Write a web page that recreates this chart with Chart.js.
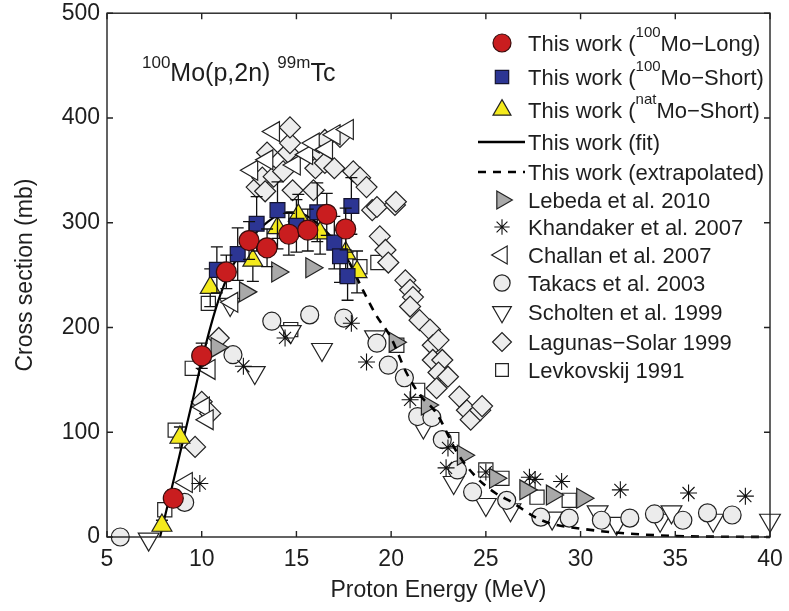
<!DOCTYPE html>
<html>
<head>
<meta charset="utf-8">
<script src="https://cdn.jsdelivr.net/npm/chart.js@4.4.1/dist/chart.umd.min.js"></script>
<style>
  html, body { margin: 0; padding: 0; background: #fff; }
  canvas { display: block; }
</style>
</head>
<body>
<canvas id="xs" width="789" height="611"></canvas>
<script>
// 100Mo(p,2n)99mTc excitation function.

const xTicks = [5, 10, 15, 20, 25, 30, 35, 40];
const yTicks = [0, 100, 200, 300, 400, 500];

// This work: [proton energy (MeV), cross section (mb)]
const moLong = [[8.5, 37], [10.0, 173], [11.3, 253], [12.5, 283], [13.45, 276], [14.6, 289], [15.6, 293], [16.6, 308], [17.6, 294]];
const moLongErr = [8, 12, 16, 18, 18, 20, 20, 20, 20];
const moShort = [[10.8, 255], [11.9, 270], [12.9, 299], [14.0, 312], [15.0, 297], [16.1, 310], [17.0, 281], [17.3, 268], [17.7, 249], [17.9, 316]];
const moShortErr = [22, 25, 26, 27, 25, 28, 25, 25, 23, 27];
const natShort = [[7.9, 11], [8.85, 95], [10.45, 238], [12.7, 264], [14.0, 295], [15.1, 307], [16.25, 290], [17.6, 271], [18.2, 253]];
const natShortErr = [5, 10, 18, 20, 20, 20, 20, 20, 20];

const fitCurve = [[7.8, 0], [8.5, 53], [9, 91], [9.5, 129], [10, 168], [10.5, 203], [11, 232], [11.5, 254], [12, 270], [12.5, 283], [13, 293], [13.5, 301], [14, 307], [14.5, 310], [15, 310], [15.5, 307], [16, 301], [16.5, 293], [17, 283], [17.5, 271], [17.8, 262]];
const extrapCurve = [[17.8, 262], [18.5, 236], [19.2, 212], [20, 190], [20.8, 157], [21.5, 136], [22.4, 118], [23.5, 80], [24.5, 57], [25.5, 42], [26.4, 33], [27.5, 20], [28.4, 13], [30, 8], [32, 4], [35, 1], [40, 0]];

// Literature
const lebeda = [[10.8, 181], [12.3, 234], [14.0, 253], [15.8, 257], [20.2, 186], [21.9, 126], [23.8, 78], [25.5, 56], [27.1, 45], [28.5, 40], [30.1, 37]];
const khandaker = [[9.9, 51], [12.2, 163], [14.4, 190], [17.9, 204], [18.7, 167], [21.0, 131], [23.0, 85], [22.9, 66], [25.0, 62], [27.3, 57], [27.6, 55], [29.0, 53], [32.1, 45], [35.7, 42], [38.7, 39]];
const challan = [[9.2, 52], [10.1, 124], [10.3, 112], [10.4, 160], [11.6, 224], [12.65, 350], [13.45, 360], [13.8, 387], [14.9, 355], [15.55, 365], [15.9, 376], [16.6, 370], [17.0, 384], [17.7, 389]];
const takacs = [[5.7, 0], [9.1, 33], [11.65, 174], [13.7, 206], [15.7, 212], [17.5, 209], [19.25, 185], [19.85, 164], [20.7, 152], [21.4, 115], [22.15, 114], [22.7, 93], [23.5, 64], [24.3, 43], [26.1, 35], [27.9, 19], [29.4, 18], [31.1, 16], [32.6, 18], [33.9, 22], [35.4, 16], [36.7, 23], [38.0, 21]];
const scholten = [[7.2, -2], [11.5, 222], [12.8, 157], [14.7, 196], [16.35, 179], [19.15, 191], [21.7, 105], [23.3, 52], [25.0, 31], [26.3, 26], [28.5, 18], [30.9, 24], [31.9, 13], [34.2, 16], [34.8, 24], [37.0, 16], [40.0, 16]];
const lagunas = [[9.65, 86], [10.0, 129], [10.45, 118], [10.9, 190], [12.9, 334], [13.2, 343], [13.35, 330], [13.45, 367], [13.8, 344], [14.3, 349], [14.56, 367], [14.66, 376], [14.66, 391], [14.8, 331], [15.9, 331], [16.0, 352], [16.2, 367], [16.5, 357], [16.5, 379], [17.0, 352], [17.3, 382], [18.0, 349], [18.36, 343], [18.7, 334], [19.0, 312], [19.25, 315], [19.4, 287], [19.7, 274], [19.85, 262], [20.2, 317], [20.25, 320], [20.75, 245], [21.0, 236], [21.15, 229], [21.0, 220], [21.5, 207], [22.05, 198], [22.2, 183], [22.5, 188], [22.2, 169], [22.7, 169], [22.5, 157], [23.0, 153], [22.4, 142], [23.6, 134], [24.0, 121], [24.2, 112], [24.7, 121], [24.8, 125]];
const levkovskij = [[8.05, 26], [8.6, 102], [9.5, 161], [10.35, 223], [14.7, 198], [18.35, 258], [19.3, 262], [20.3, 183], [21.4, 140], [23.2, 93], [25.0, 64], [25.85, 56], [27.7, 38], [29.4, 35]];

const FONT = '"Liberation Sans", Arial, Helvetica, sans-serif';
const INK = '#1e1e1e';

const toXY = (arr) => arr.map(([x, y]) => ({ x, y }));

function markerSet(label, data, style, extra) {
  return Object.assign({
    type: 'scatter',
    label,
    data: toXY(data),
    pointStyle: style.pointStyle,
    pointRadius: style.radius,
    pointHoverRadius: style.radius,
    pointRotation: style.rotation || 0,
    pointBackgroundColor: style.fill,
    pointBorderColor: style.stroke || '#222',
    pointBorderWidth: style.width || 1.2,
    clip: false,
  }, extra || {});
}

// Marker looks (shared by plot and legend)
const sLong = { pointStyle: 'circle', radius: 10, fill: '#c91d1f', stroke: '#3a0c0c' };
const sShort = { pointStyle: 'rect', radius: 10.5, fill: '#2c3593', stroke: '#141430' };
const sNat = { pointStyle: 'triangle', radius: 11.5, fill: '#f4ea1c', stroke: '#222' };
const sLebeda = { pointStyle: 'triangle', radius: 11.5, rotation: 90, fill: '#a9a9a9' };
const sKhand = { pointStyle: 'star', radius: 8.5, fill: '#111', stroke: '#111', width: 1.1 };
const sChallan = { pointStyle: 'triangle', radius: 11.5, rotation: 270, fill: '#ffffff' };
const sTakacs = { pointStyle: 'circle', radius: 9, fill: '#ececec' };
const sScholten = { pointStyle: 'triangle', radius: 12, rotation: 180, fill: '#ffffff' };
const sLagunas = { pointStyle: 'rectRot', radius: 10.5, fill: '#ededed' };
const sLevk = { pointStyle: 'rect', radius: 10, fill: '#ffffff' };

const datasets = [
  markerSet('This work (100Mo-Long)', moLong, sLong, { errors: moLongErr }),
  markerSet('This work (100Mo-Short)', moShort, sShort, { errors: moShortErr }),
  markerSet('This work (natMo-Short)', natShort, sNat, { errors: natShortErr }),
  {
    type: 'line', label: 'This work (fit)', data: toXY(fitCurve),
    borderColor: '#000', borderWidth: 2.2, pointRadius: 0, fill: false,
    cubicInterpolationMode: 'monotone', clip: false,
  },
  {
    type: 'line', label: 'This work (extrapolated)', data: toXY(extrapCurve),
    borderColor: '#000', borderWidth: 2.6, borderDash: [8, 7], pointRadius: 0, fill: false,
    cubicInterpolationMode: 'monotone', clip: false,
  },
  markerSet('Lebeda et al. 2010', lebeda, sLebeda),
  markerSet('Khandaker et al. 2007', khandaker, sKhand),
  markerSet('Challan et al. 2007', challan, sChallan),
  markerSet('Takacs et al. 2003', takacs, sTakacs),
  markerSet('Scholten et al. 1999', scholten, sScholten),
  markerSet('Lagunas-Solar 1999', lagunas, sLagunas),
  markerSet('Levkovskij 1991', levkovskij, sLevk),
];

// Legend rows: [text parts ([string, superscript?]), marker style or line dash]
const legendRows = [
  [[['This work ('], ['100', true], ['Mo\u2212Long)']], sLong],
  [[['This work ('], ['100', true], ['Mo\u2212Short)']], sShort],
  [[['This work ('], ['nat', true], ['Mo\u2212Short)']], sNat],
  [[['This work (fit)']], 'solid'],
  [[['This work (extrapolated)']], 'dash'],
  [[['Lebeda et al. 2010']], sLebeda],
  [[['Khandaker et al. 2007']], sKhand],
  [[['Challan et al. 2007']], sChallan],
  [[['Takacs et al. 2003']], sTakacs],
  [[['Scholten et al. 1999']], sScholten],
  [[['Lagunas\u2212Solar 1999']], sLagunas],
  [[['Levkovskij 1991']], sLevk],
];

function drawRich(ctx, parts, x, y, size, supSize, rise) {
  let cx = x;
  parts.forEach(([txt, sup]) => {
    ctx.font = `${sup ? supSize : size}px ${FONT}`;
    ctx.fillText(txt, cx, sup ? y - rise : y);
    cx += ctx.measureText(txt).width;
  });
  return cx;
}

// Error bars go just under their own markers
const errorBars = {
  id: 'errorBars',
  beforeDatasetDraw(chart, args) {
    const ds = chart.data.datasets[args.index];
    if (!ds.errors) return;
    const { ctx, scales: { x, y } } = chart;
    ctx.save();
    ctx.strokeStyle = '#111';
    ctx.lineWidth = 1.3;
    ds.data.forEach((p, i) => {
      const e = ds.errors[i];
      const px = x.getPixelForValue(p.x);
      const top = y.getPixelForValue(p.y + e);
      const bot = y.getPixelForValue(p.y - e);
      ctx.beginPath();
      ctx.moveTo(px, top); ctx.lineTo(px, bot);
      ctx.moveTo(px - 6, top); ctx.lineTo(px + 6, top);
      ctx.moveTo(px - 6, bot); ctx.lineTo(px + 6, bot);
      ctx.stroke();
    });
    ctx.restore();
  },
};

// Box with inward ticks on all four sides, axis titles
const frame = {
  id: 'frame',
  afterDraw(chart) {
    const { ctx, chartArea: a, scales: { x, y } } = chart;
    ctx.save();
    ctx.strokeStyle = '#222';
    ctx.lineWidth = 1.4;
    ctx.strokeRect(a.left, a.top, a.right - a.left, a.bottom - a.top);
    ctx.beginPath();
    xTicks.forEach((v) => {
      const px = x.getPixelForValue(v);
      ctx.moveTo(px, a.bottom); ctx.lineTo(px, a.bottom - 6);
      ctx.moveTo(px, a.top); ctx.lineTo(px, a.top + 6);
    });
    yTicks.forEach((v) => {
      const py = y.getPixelForValue(v);
      ctx.moveTo(a.left, py); ctx.lineTo(a.left + 6, py);
      ctx.moveTo(a.right, py); ctx.lineTo(a.right - 6, py);
    });
    ctx.stroke();

    ctx.fillStyle = INK;
    ctx.font = `23px ${FONT}`;
    ctx.textAlign = 'center';
    ctx.textBaseline = 'middle';
    ctx.fillText('Proton Energy (MeV)', (a.left + a.right) / 2, 591);
    ctx.translate(26, (a.top + a.bottom) / 2);
    ctx.rotate(-Math.PI / 2);
    ctx.fillText('Cross section (mb)', 0, 0);
    ctx.restore();

    // reaction label
    ctx.save();
    ctx.fillStyle = INK;
    ctx.textBaseline = 'alphabetic';
    ctx.textAlign = 'left';
    drawRich(ctx, [['100', true], ['Mo(p,2n)'], [' '], ['99m', true], ['Tc']], 142, 81, 25, 17, 13);
    ctx.restore();
  },
};

const legend = {
  id: 'figLegend',
  afterDraw(chart) {
    const { ctx } = chart;
    const rowY = [43, 77, 110, 142, 172, 200, 227, 255, 283, 312, 342, 370];
    ctx.save();
    legendRows.forEach(([parts, mark], i) => {
      const yy = rowY[i];
      if (mark === 'solid' || mark === 'dash') {
        ctx.strokeStyle = '#000';
        ctx.lineWidth = 2.4;
        ctx.setLineDash(mark === 'dash' ? [8, 7] : []);
        ctx.beginPath();
        ctx.moveTo(478, yy); ctx.lineTo(525, yy);
        ctx.stroke();
        ctx.setLineDash([]);
      } else {
        ctx.fillStyle = mark.fill;
        ctx.strokeStyle = mark.stroke || '#222';
        ctx.lineWidth = mark.width || 1.2;
        Chart.helpers.drawPoint(ctx, {
          pointStyle: mark.pointStyle,
          radius: mark.radius * 0.9,
          rotation: mark.rotation || 0,
          borderWidth: mark.width || 1.2,
        }, 502, yy);
      }
      ctx.fillStyle = INK;
      ctx.textBaseline = 'alphabetic';
      ctx.textAlign = 'left';
      drawRich(ctx, parts, 528, yy + 8, 22, 15, 14);
    });
    ctx.restore();
  },
};

new Chart(document.getElementById('xs'), {
  data: { datasets },
  options: {
    responsive: false,
    animation: false,
    layout: { padding: { left: 0, right: 19, top: 13, bottom: 0 } },
    plugins: { legend: { display: false }, tooltip: { enabled: false } },
    scales: {
      x: {
        type: 'linear',
        min: 5,
        max: 40,
        afterFit: (s) => { s.height = 74; s.paddingLeft = 0; s.paddingRight = 0; },
        afterBuildTicks: (s) => { s.ticks = xTicks.map((v) => ({ value: v })); },
        grid: { display: false, drawTicks: false },
        border: { display: false },
        ticks: { padding: 9, color: INK, font: { family: FONT, size: 23 }, maxRotation: 0 },
      },
      y: {
        type: 'linear',
        min: 0,
        max: 500,
        afterFit: (s) => { s.width = 107; s.paddingTop = 0; s.paddingBottom = 0; },
        afterBuildTicks: (s) => { s.ticks = yTicks.map((v) => ({ value: v })); },
        grid: { display: false, drawTicks: false },
        border: { display: false },
        ticks: { padding: 7, color: INK, font: { family: FONT, size: 23 } },
      },
    },
  },
  plugins: [errorBars, frame, legend],
});
</script>
</body>
</html>
